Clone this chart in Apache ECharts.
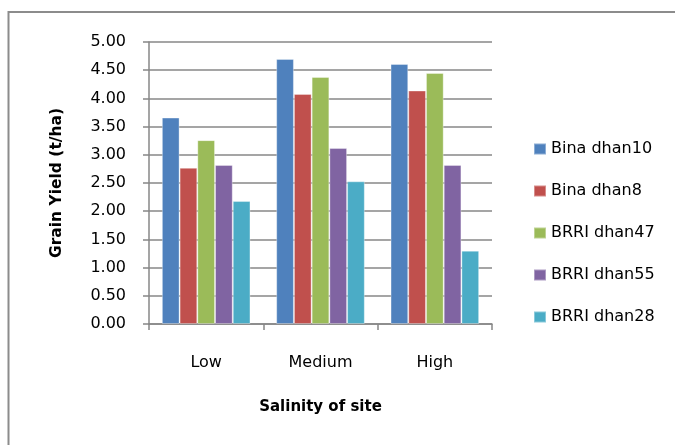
<!DOCTYPE html>
<html>
<head>
<meta charset="utf-8">
<script src="https://cdn.jsdelivr.net/npm/echarts@6/dist/echarts.min.js"></script>
<style>
  html, body { margin: 0; padding: 0; background: #fff; }
  #chart { width: 675px; height: 445px; }
</style>
</head>
<body>
<div id="chart"></div>
<script>
// Grain yield by salinity level of the site
const categories = ['Low', 'Medium', 'High'];
const seriesNames = ['Bina dhan10', 'Bina dhan8', 'BRRI dhan47', 'BRRI dhan55', 'BRRI dhan28'];
const binaDhan10 = [3.66, 4.70, 4.61];
const binaDhan8 = [2.77, 4.08, 4.14];
const brriDhan47 = [3.26, 4.38, 4.45];
const brriDhan55 = [2.82, 3.12, 2.82];
const brriDhan28 = [2.18, 2.53, 1.30];
const yTicks = { min: 0, max: 5, step: 0.5 };

const seriesValues = [binaDhan10, binaDhan8, brriDhan47, brriDhan55, brriDhan28];
const colors = ['#4F81BD', '#C0504D', '#9BBB59', '#8064A2', '#4BACC6'];
const FONT = '"DejaVu Sans", sans-serif';
const GRID_GREY = '#878787';

const chart = echarts.init(document.getElementById('chart'), null, { renderer: 'canvas' });

chart.setOption({
  backgroundColor: '#ffffff',
  animation: false,
  color: colors,
  textStyle: { fontFamily: FONT, color: '#000' },
  // chart-area frame: only its top and left edges fall inside the page
  graphic: [{
    type: 'polyline',
    shape: { points: [[8.5, 445], [8.5, 12], [675, 12]] },
    style: { fill: 'none', stroke: '#8c8c8c', lineWidth: 2 },
    silent: true
  }],
  grid: { left: 149, right: 183, top: 42, bottom: 121, containLabel: false },
  legend: {
    orient: 'vertical',
    left: 528,
    top: 136,
    itemWidth: 12,
    itemHeight: 11,
    itemGap: 26,
    icon: 'rect',
    textStyle: { fontFamily: FONT, fontSize: 16, color: '#000', lineHeight: 16 },
    data: seriesNames
  },
  xAxis: {
    type: 'category',
    data: categories,
    axisLine: { show: true, lineStyle: { color: GRID_GREY, width: 1.5 } },
    axisTick: { show: true, alignWithLabel: false, length: 6, lineStyle: { color: GRID_GREY, width: 1.5 } },
    axisLabel: { margin: 31, fontFamily: FONT, fontSize: 16, color: '#000' },
    name: 'Salinity of site',
    nameLocation: 'middle',
    nameGap: 76,
    nameTextStyle: { fontFamily: FONT, fontSize: 15, fontWeight: 'bold', color: '#000' }
  },
  yAxis: {
    type: 'value',
    min: yTicks.min,
    max: yTicks.max,
    interval: yTicks.step,
    axisLine: { show: true, lineStyle: { color: GRID_GREY, width: 1.5 } },
    axisTick: { show: true, length: 6, lineStyle: { color: GRID_GREY, width: 1.5 } },
    splitLine: { show: true, lineStyle: { color: GRID_GREY, width: 1.5 } },
    axisLabel: {
      margin: 23,
      fontFamily: FONT,
      fontSize: 16,
      color: '#000',
      formatter: v => v.toFixed(2)
    },
    name: 'Grain Yield (t/ha)',
    nameLocation: 'middle',
    nameGap: 84,
    nameRotate: 90,
    nameTextStyle: { fontFamily: FONT, fontSize: 15.5, fontWeight: 'bold', color: '#000' }
  },
  series: seriesNames.map((name, i) => ({
    name,
    type: 'bar',
    data: seriesValues[i],
    barGap: '0%',
    barCategoryGap: '22.5%',
    itemStyle: { borderColor: 'rgba(255,255,255,0.35)', borderWidth: 1 }
  }))
});
</script>
</body>
</html>
